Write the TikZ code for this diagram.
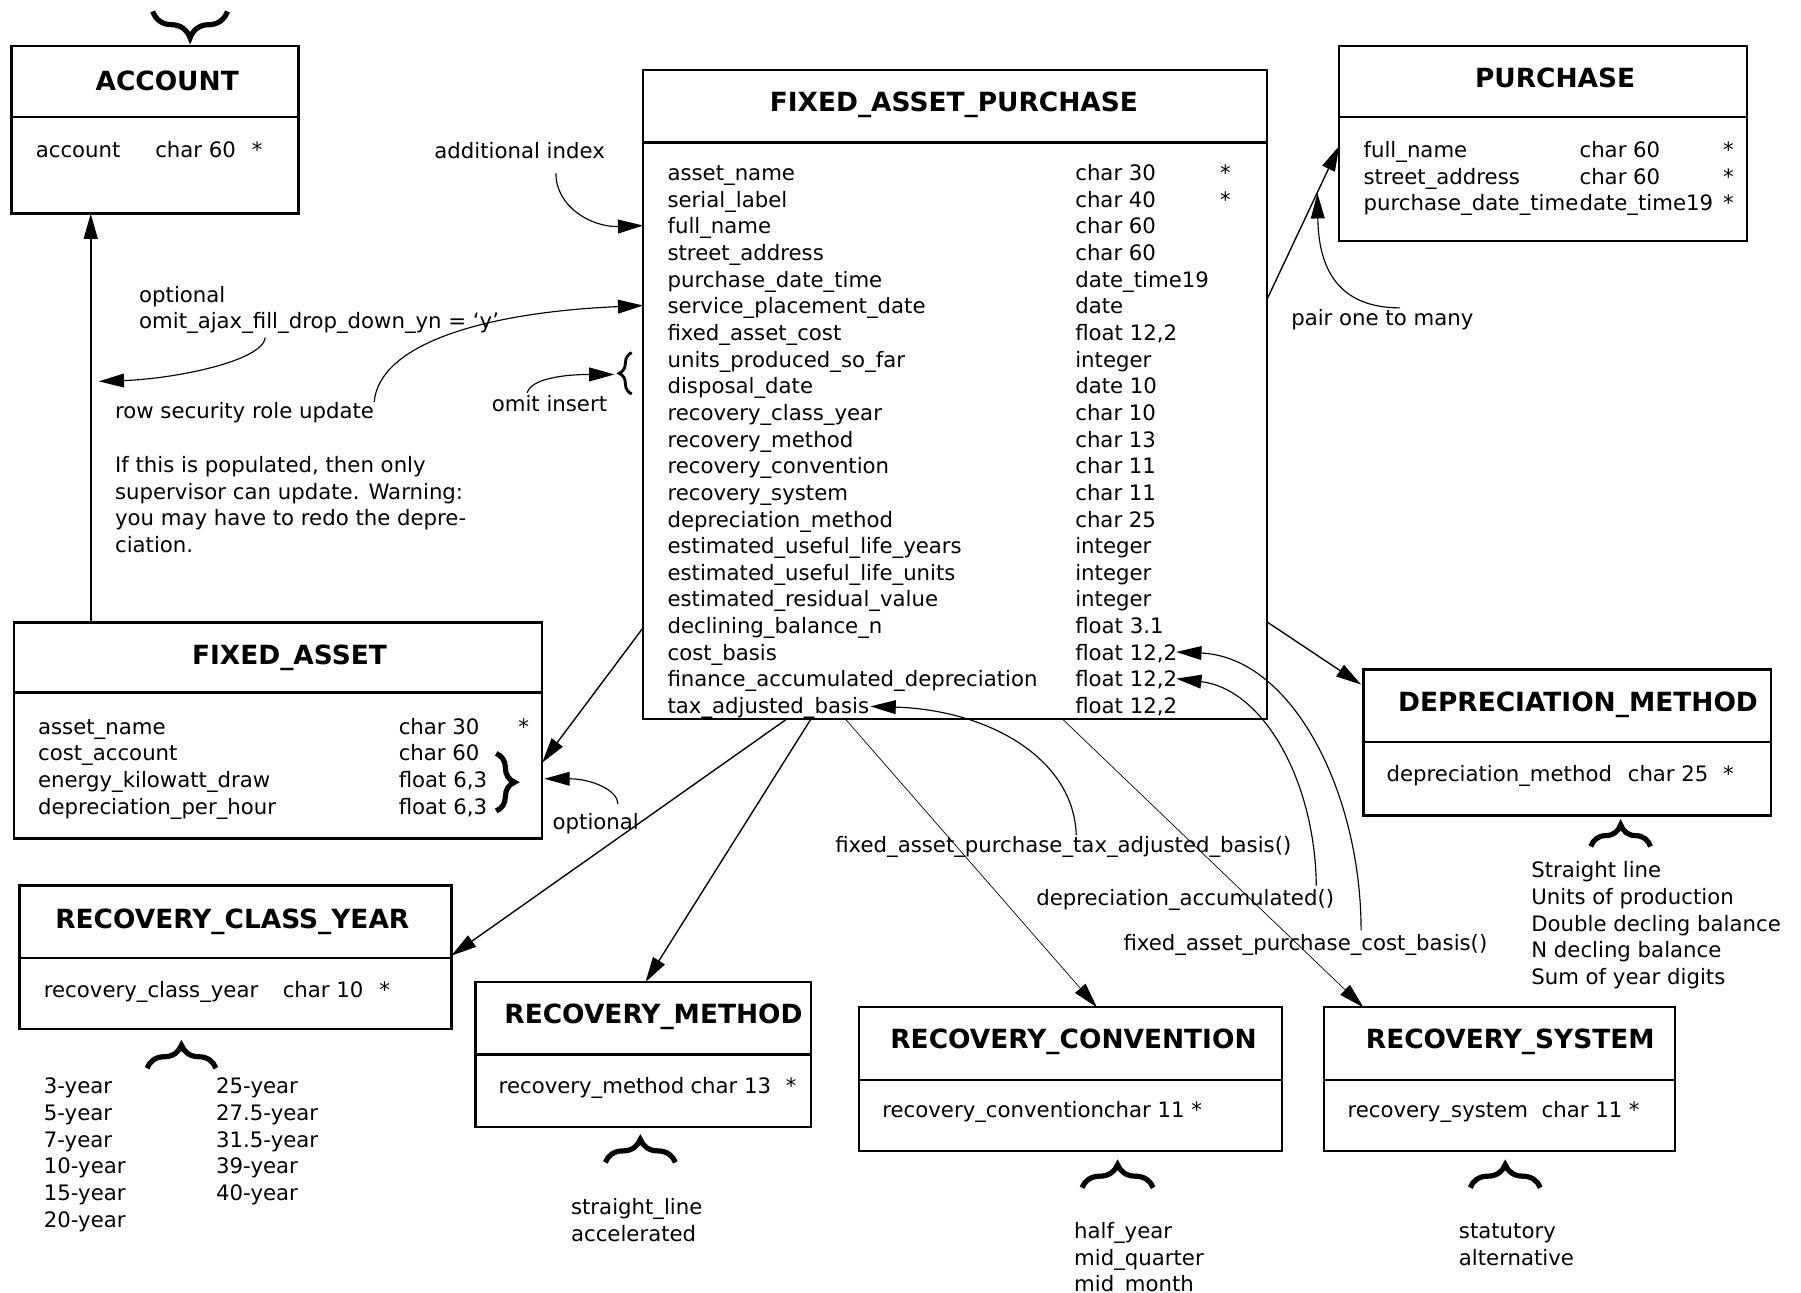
\documentclass[tikz,border=0pt]{standalone}
\usepackage{fontspec}
\setmainfont{DejaVu Sans}
\usetikzlibrary{positioning,calc,arrows.meta,decorations.pathreplacing}

\tikzset{
  tbl/.style={draw, line width=2pt, anchor=north west, inner sep=0pt, outer sep=0pt},
  ttl/.style={anchor=west, inner sep=0pt, font=\bfseries\fontsize{23}{28}\selectfont, text height=17pt, text depth=0pt},
  fld/.style={anchor=west, inner sep=0pt, font=\fontsize{18.5}{23.2}\selectfont, text height=19pt, text depth=4.5pt},
  conn/.style={line width=1.2pt, -{Triangle[length=22pt,width=12pt]}},
  thinconn/.style={conn, line width=0.6pt},
  curv/.style={conn, line width=1pt},
  brc/.style={decorate, decoration={brace, amplitude=#1}, line width=4.5pt},
}

\begin{document}
\begin{tikzpicture}[x=1pt,y=-1pt]
    \useasboundingbox (0,0) rectangle (1568,1125);

    % tables
    \node[tbl, minimum width=250pt, minimum height=146pt] (account) at (10,40) {};
    \node[tbl, minimum width=543pt, minimum height=565pt] (fap) at (560,61) {};
    \node[tbl, minimum width=355pt, minimum height=170pt] (pur) at (1166,40) {};
    \node[tbl, minimum width=460pt, minimum height=188pt] (fa) at (12,542) {};
    \node[tbl, minimum width=376pt, minimum height=125pt] (rcy) at (17,771) {};
    \node[tbl, minimum width=292pt, minimum height=126pt] (rm) at (414,855) {};
    \node[tbl, minimum width=368pt, minimum height=125pt] (rc) at (748,877) {};
    \node[tbl, minimum width=305pt, minimum height=125pt] (rs) at (1153,877) {};
    \node[tbl, minimum width=355pt, minimum height=127pt] (dep) at (1187,583) {};
    \foreach \b/\d in {account/102, fap/124, pur/102, fa/603, rcy/834, rm/918, rc/940, rs/940, dep/646}
        \draw[line width=2pt] (\b.west |- 0,\d) -- (\b.east |- 0,\d);

    % titles
    \node[ttl] (accountttl) at (83,70) {ACCOUNT};
    \node[ttl] (fapttl) at (670,89) {FIXED\_ASSET\_PURCHASE};
    \node[ttl] (purttl) at (1284,68) {PURCHASE};
    \node[ttl] (fattl) at (167,570) {FIXED\_ASSET};
    \node[ttl] (rcyttl) at (48,800) {RECOVERY\_CLASS\_YEAR};
    \node[ttl] (rmttl) at (439,883) {RECOVERY\_METHOD};
    \node[ttl] (rcttl) at (775,904) {RECOVERY\_CONVENTION};
    \node[ttl] (rsttl) at (1189,904) {RECOVERY\_SYSTEM};
    \node[ttl] (depttl) at (1217,611) {DEPRECIATION\_METHOD};

    % fields
    \node[fld] (acctn) at (31,130) {account};
    \node[fld] (acctt) at (135,130) {char 60};
    \node[fld] (accts) at (219,130) {*};

    \foreach \nm/\ty [count=\i from 0] in {asset\_name/char 30, serial\_label/char 40,
        full\_name/char 60, street\_address/char 60, purchase\_date\_time/date\_time19,
        service\_placement\_date/date, {fixed\_asset\_cost/float 12,2},
        units\_produced\_so\_far/integer, disposal\_date/date 10,
        recovery\_class\_year/char 10, recovery\_method/char 13,
        recovery\_convention/char 11, recovery\_system/char 11,
        depreciation\_method/char 25, estimated\_useful\_life\_years/integer,
        estimated\_useful\_life\_units/integer, estimated\_residual\_value/integer,
        declining\_balance\_n/float 3.1, {cost\_basis/float 12,2},
        {finance\_accumulated\_depreciation/float 12,2}, {tax\_adjusted\_basis/float 12,2}} {
        \node[fld] (fapn\i) at (581,{150+23.2*\i}) {\nm};
        \node[fld] (fapt\i) at (936,{150+23.2*\i}) {\ty};
    }
    \node[fld] (faps0) at (1062,150) {*};
    \node[fld] (faps1) at (1062,173) {*};

    \foreach \nm/\ty [count=\i from 0] in {full\_name/char 60, street\_address/char 60,
        purchase\_date\_time/date\_time19} {
        \node[fld] (purn\i) at (1187,{130+23.2*\i}) {\nm};
        \node[fld] (purt\i) at (1375,{130+23.2*\i}) {\ty};
        \node[fld] (purs\i) at (1500,{130+23.2*\i}) {*};
    }

    \foreach \nm/\ty [count=\i from 0] in {asset\_name/char 30, cost\_account/char 60,
        {energy\_kilowatt\_draw/float 6,3}, {depreciation\_per\_hour/float 6,3}} {
        \node[fld] (fan\i) at (33,{632+23.2*\i}) {\nm};
        \node[fld] (fat\i) at (347,{632+23.2*\i}) {\ty};
    }
    \node[fld] (fas0) at (451,632) {*};

    \node[fld] (rcyn) at (38,861) {recovery\_class\_year};
    \node[fld] (rcyt) at (246,861) {char 10};
    \node[fld] (rcys) at (330,861) {*};
    \node[fld] (rmn) at (434,945) {recovery\_method};
    \node[fld] (rmt) at (601,945) {char 13};
    \node[fld] (rms) at (684,945) {*};
    \node[fld] (rcn) at (768,966) {recovery\_conventionchar 11 *};
    \node[fld] (rsn) at (1173,966) {recovery\_system};
    \node[fld] (rst) at (1342,966) {char 11};
    \node[fld] (rss) at (1418,966) {*};
    \node[fld] (depn) at (1207,673) {depreciation\_method};
    \node[fld] (dept) at (1417,673) {char 25};
    \node[fld] (deps) at (1500,673) {*};

    % value lists
    \foreach \v [count=\i from 0] in {3-year,5-year,7-year,10-year,15-year,20-year}
        \node[fld] (yra\i) at (38,{945+23.2*\i}) {\v};
    \foreach \v [count=\i from 0] in {25-year,27.5-year,31.5-year,39-year,40-year}
        \node[fld] (yrb\i) at (188,{945+23.2*\i}) {\v};
    \foreach \v [count=\i from 0] in {Straight line,Units of production,Double decling balance,N decling balance,Sum of year digits}
        \node[fld] (depv\i) at (1333,{757+23.2*\i}) {\v};
    \foreach \v [count=\i from 0] in {straight\_line,accelerated}
        \node[fld] (rmv\i) at (497,{1050+23.2*\i}) {\v};
    \foreach \v [count=\i from 0] in {half\_year,mid\_quarter,mid\_month}
        \node[fld] (rcv\i) at (935,{1071+23.2*\i}) {\v};
    \foreach \v [count=\i from 0] in {statutory,alternative}
        \node[fld] (rsv\i) at (1270,{1071+23.2*\i}) {\v};

    % braces
    \draw[brc=23] (198,10) -- (133,10);
    \draw[brc=20] (128,930) -- (188,930);
    \draw[brc=20] (527,1012) -- (588,1012);
    \draw[brc=20] (942,1034) -- (1004,1034);
    \draw[brc=20] (1280,1034) -- (1341,1034);
    \draw[brc=19] (1385,737) -- (1437,737);
    \draw[brc=11, line width=2.5pt] (550,343) -- (550,307);
    \draw[brc=16, line width=4.5pt] (432,656) -- (432,706);

    % links between tables
    \draw[conn, line width=1.8pt] ($(fa.north west)+(67,0)$) -- ($(account.south west)+(69,0)$);
    \draw[conn] ($(fap.west |- fapn17)+(0,2)$) -- ($(fa.east)+(0,28)$);
    \draw[conn] ($(fap.east |- fapn4)+(0,18)$) -- ($(pur.west |- purn0)+(0,-3)$);
    \draw[conn] ($(fap.east |- fapn17)+(0,-3)$) -- ($(dep.north west)+(-2,13)$);
    \draw[conn] ($(fap.south west)+(125,0)$) -- ($(rcy.north east)+(0,61)$);
    \draw[conn] ($(fap.south west)+(146,0)$) -- ($(rm.north west)+(148,0)$);
    \draw[thinconn] ($(fap.south west)+(176,0)$) -- ($(rc.north west)+(207,0)$);
    \draw[thinconn] ($(fap.south west)+(365,0)$) -- ($(rs.north west)+(34,0)$);

    % notes
    \node[fld] (addidx) at (378,131) {additional index};
    \draw[curv] ($(addidx.south west)+(106,8)$) .. controls (484,180) and (515,198) .. (fap.west |- fapn2);

    \node[fld] (optnote) at (121,256) {optional};
    \node[fld] (ajaxnote) at (121,279) {omit\_ajax\_fill\_drop\_down\_yn = ‘y’};
    \coordinate (acctlink) at (86,332);
    \draw[curv] ($(ajaxnote.south west)+(110,3)$) .. controls (228,315) and (150,330) .. (acctlink);

    \node[fld] (rowsec) at (100,357) {row security role update};
    \draw[curv] ($(rowsec.north east)+(0,5)$) .. controls (330,300) and (420,272) .. (fap.west |- fapn5);

    \node[fld] (omitins) at (428,351) {omit insert};
    \coordinate (insbrace) at (535,326);
    \draw[curv] ($(omitins.north west)+(31,3)$) .. controls (462,330) and (490,326) .. (insbrace);

    \foreach \ln [count=\i from 0] in {{If this is populated, then only}, {supervisor can update. Warning:},
        {you may have to redo the depre-}, {ciation.}}
        \node[fld] (warn\i) at (100,{404+23.2*\i}) {\ln};

    \node[fld] (faopt) at (481,715) {optional};
    \coordinate (fabrace) at (474,678);
    \draw[curv] ($(faopt.north west)+(57,-3)$) .. controls (538,688) and (515,678) .. (fabrace);

    \node[fld] (pairnote) at (1124,276) {pair one to many};
    \draw[curv] ($(pairnote.north west)+(95,4)$) .. controls (1170,268) and (1148,240) .. ($(pur.west |- purn1)+(-19,15)$);

    \node[fld] (taxnote) at (727,735) {fixed\_asset\_purchase\_tax\_adjusted\_basis()};
    \draw[curv] ($(taxnote.north west)+(210,4)$) .. controls (935,660) and (860,618) .. ($(fapn20.east)+(1,1)$);

    \node[fld] (accnote) at (902,781) {depreciation\_accumulated()};
    \draw[curv] ($(accnote.north west)+(244,2)$) .. controls (1145,680) and (1100,600) .. ($(fapt19.east)+(-1,0)$);

    \node[fld] (costnote) at (978,820) {fixed\_asset\_purchase\_cost\_basis()};
    \draw[curv] ($(costnote.north west)+(207,2)$) .. controls (1185,690) and (1125,572) .. ($(fapt18.east)+(-1,0)$);
\end{tikzpicture}
\end{document}
